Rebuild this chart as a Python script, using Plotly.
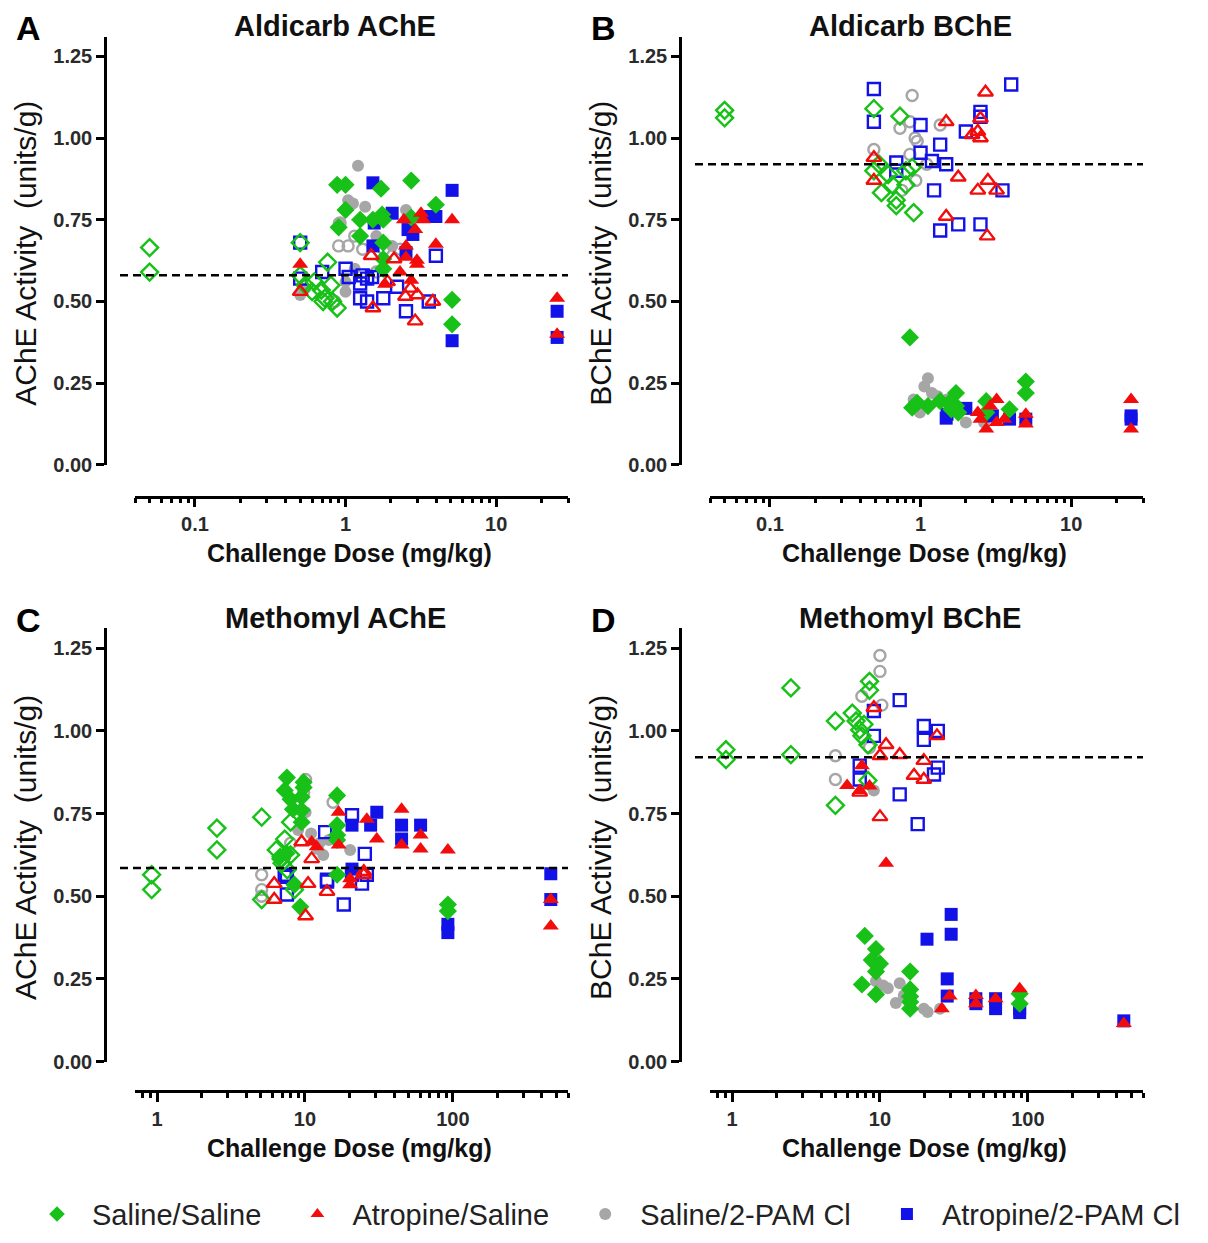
import plotly.graph_objects as go
import math

# ---------------- DATA ----------------
GROUPS = ["Saline/Saline", "Atropine/Saline", "Saline/2-PAM Cl", "Atropine/2-PAM Cl"]
PANEL_TITLES = ["Aldicarb AChE", "Aldicarb BChE", "Methomyl AChE", "Methomyl BChE"]
PANEL_LETTERS = ["A", "B", "C", "D"]
Y_TITLES = ["AChE Activity\u00a0 (units/g)", "BChE Activity\u00a0 (units/g)",
            "AChE Activity\u00a0 (units/g)", "BChE Activity\u00a0 (units/g)"]
X_TITLE = "Challenge Dose (mg/kg)"
BASELINES = [0.58, 0.92, 0.585, 0.92]
Y_TICKS = [0.0, 0.25, 0.5, 0.75, 1.0, 1.25]
X_TICKS_ALDICARB = [0.1, 1, 10]
X_TICKS_METHOMYL = [1, 10, 100]

# Panel A  (Aldicarb AChE)
A_SS_F_X = [0.88, 1.0, 1.72, 2.73, 1.0, 0.9, 1.25, 1.52, 1.75, 1.78, 2.73, 3.98, 1.25, 1.78, 1.78, 1.78, 5.1, 5.1]
A_SS_F_Y = [0.857, 0.857, 0.845, 0.87, 0.78, 0.727, 0.75, 0.75, 0.766, 0.75, 0.757, 0.796, 0.70, 0.68, 0.63, 0.60, 0.505, 0.43]
A_SS_O_X = [0.05, 0.05, 0.5, 0.76, 0.5, 0.54, 0.69, 0.73, 0.80, 0.88, 0.71, 0.62, 0.6, 0.82]
A_SS_O_Y = [0.665, 0.59, 0.68, 0.62, 0.58, 0.55, 0.535, 0.51, 0.55, 0.48, 0.50, 0.56, 0.53, 0.50]
A_AS_F_X = [0.5, 1.83, 2.3, 2.44, 2.52, 2.52, 2.73, 2.9, 2.98, 2.98, 3.17, 3.27, 3.98, 5.1, 25.4, 25.4]
A_AS_F_Y = [0.614, 0.553, 0.59, 0.75, 0.67, 0.635, 0.565, 0.72, 0.626, 0.614, 0.77, 0.75, 0.675, 0.75, 0.51, 0.40]
A_AS_O_X = [1.48, 0.5, 1.52, 2.5, 2.9, 3.8, 1.9, 2.7, 3.0, 2.1]
A_AS_O_Y = [0.64, 0.53, 0.48, 0.515, 0.44, 0.50, 0.56, 0.54, 0.52, 0.63]
A_SP_F_X = [1.21, 1.04, 1.12, 1.35, 0.9, 2.52, 1.6, 2.04, 1.0, 1.0, 0.54, 0.5, 1.15]
A_SP_F_Y = [0.915, 0.81, 0.80, 0.79, 0.74, 0.78, 0.70, 0.67, 0.53, 0.56, 0.54, 0.52, 0.60]
A_SP_O_X = [0.9, 1.04, 0.92, 1.15, 1.3, 1.8, 2.3, 0.85, 1.6]
A_SP_O_Y = [0.67, 0.67, 0.74, 0.70, 0.66, 0.66, 0.66, 0.50, 0.59]
A_AP_F_X = [1.52, 5.1, 2.04, 3.37, 3.98, 1.52, 2.52, 2.8, 5.1, 25.4, 25.4, 2.6, 1.55]
A_AP_F_Y = [0.863, 0.84, 0.77, 0.76, 0.76, 0.67, 0.65, 0.705, 0.38, 0.47, 0.39, 0.72, 0.74]
A_AP_O_X = [0.5, 3.98, 1.0, 1.3, 1.39, 1.5, 0.5, 0.7, 1.25, 1.39, 1.78, 2.52, 3.57, 1.05, 1.25, 2.2]
A_AP_O_Y = [0.68, 0.64, 0.60, 0.58, 0.57, 0.575, 0.57, 0.59, 0.51, 0.50, 0.51, 0.47, 0.50, 0.575, 0.555, 0.545]

# Panel B  (Aldicarb BChE)
B_SS_F_X = [0.85, 0.88, 1.12, 1.35, 1.72, 1.72, 1.78, 2.73, 2.73, 3.9, 5.0, 5.0, 0.95, 1.55, 1.6]
B_SS_F_Y = [0.39, 0.175, 0.18, 0.195, 0.22, 0.18, 0.16, 0.195, 0.16, 0.17, 0.255, 0.22, 0.19, 0.19, 0.17]
B_SS_O_X = [0.05, 0.05, 0.49, 0.73, 0.49, 0.53, 0.61, 0.65, 0.55, 0.69, 0.69, 0.80, 0.80, 0.88, 0.90]
B_SS_O_Y = [1.085, 1.062, 1.09, 1.067, 0.90, 0.92, 0.888, 0.857, 0.833, 0.81, 0.793, 0.857, 0.90, 0.91, 0.772]
B_AS_F_X = [2.4, 2.73, 3.2, 3.2, 5.0, 5.0, 3.6, 25, 25, 2.9, 2.5]
B_AS_F_Y = [0.16, 0.11, 0.20, 0.13, 0.125, 0.155, 0.14, 0.20, 0.11, 0.18, 0.14]
B_AS_O_X = [0.49, 0.49, 1.48, 2.2, 2.5, 2.4, 2.5, 2.7, 1.78, 1.48, 2.77, 2.4, 2.8, 3.2]
B_AS_O_Y = [0.94, 0.87, 1.05, 1.01, 1.0, 1.02, 1.06, 1.14, 0.88, 0.76, 0.70, 0.84, 0.87, 0.84]
B_SP_F_X = [1.12, 1.06, 1.19, 0.99, 1.83, 2.0, 2.64, 1.3, 1.5, 0.9]
B_SP_F_Y = [0.265, 0.24, 0.22, 0.16, 0.17, 0.13, 0.13, 0.21, 0.20, 0.20]
B_SP_O_X = [0.88, 0.73, 0.85, 0.92, 0.95, 1.35, 0.49, 0.93, 0.85, 1.1, 0.75]
B_SP_O_Y = [1.13, 1.03, 1.05, 1.0, 0.99, 1.04, 0.965, 0.87, 0.95, 0.92, 0.84]
B_AP_F_X = [1.48, 2.0, 3.9, 5.0, 25, 25, 1.5, 3.0]
B_AP_F_Y = [0.143, 0.173, 0.14, 0.14, 0.15, 0.14, 0.155, 0.15]
B_AP_O_X = [0.49, 0.49, 1.0, 2.0, 2.5, 4.0, 1.35, 1.0, 1.19, 1.48, 0.69, 0.69, 1.23, 1.35, 1.78, 2.5, 3.5, 2.5]
B_AP_O_Y = [1.15, 1.05, 1.04, 1.02, 1.08, 1.164, 0.98, 0.955, 0.93, 0.92, 0.925, 0.90, 0.84, 0.717, 0.736, 0.736, 0.84, 1.065]

# Panel C  (Methomyl AChE)
C_SS_F_X = [7.55, 7.3, 8.0, 9.8, 9.8, 9.5, 8.3, 9.5, 16.5, 16.5, 16.5, 16.5, 9.5, 8.5, 9.3, 16.5, 92.5, 92.5, 6.8, 7.5]
C_SS_F_Y = [0.859, 0.82, 0.793, 0.845, 0.829, 0.80, 0.763, 0.76, 0.805, 0.715, 0.685, 0.67, 0.724, 0.535, 0.468, 0.565, 0.475, 0.455, 0.62, 0.63]
C_SS_O_X = [0.92, 0.92, 2.54, 2.54, 5.1, 8.0, 7.3, 6.4, 6.9, 8.0, 5.1, 8.5, 7.0, 7.6]
C_SS_O_Y = [0.565, 0.52, 0.706, 0.64, 0.739, 0.724, 0.673, 0.64, 0.613, 0.625, 0.49, 0.52, 0.60, 0.58]
C_AS_F_X = [11.1, 16.9, 16.9, 26.2, 30.6, 45, 45, 60.5, 60.5, 92.5, 20.2, 20.2, 459, 459, 12]
C_AS_F_Y = [0.664, 0.754, 0.655, 0.733, 0.673, 0.763, 0.655, 0.685, 0.643, 0.64, 0.535, 0.553, 0.49, 0.41, 0.65]
C_AS_O_X = [9.5, 11.1, 25, 6.2, 6.2, 10.1, 10.5, 14.1, 25]
C_AS_O_Y = [0.664, 0.613, 0.574, 0.538, 0.49, 0.44, 0.538, 0.514, 0.565]
C_SP_F_X = [10.1, 12.2, 14.5, 13.3, 20.2, 11, 12.5, 9]
C_SP_F_Y = [0.754, 0.643, 0.67, 0.625, 0.64, 0.69, 0.66, 0.70]
C_SP_O_X = [10.1, 9.8, 15.5, 5.1, 5.1, 5.1, 8.0]
C_SP_O_Y = [0.853, 0.814, 0.784, 0.565, 0.52, 0.50, 0.66]
C_AP_F_X = [30.6, 20.8, 27.8, 45, 60.5, 45, 459, 20.8, 92.5, 92.5, 459]
C_AP_F_Y = [0.754, 0.715, 0.715, 0.715, 0.715, 0.673, 0.568, 0.582, 0.415, 0.39, 0.49]
C_AP_O_X = [13.7, 20.8, 25.4, 26.2, 7.3, 14.1, 20.8, 7.55, 7.55, 14.1, 18.3, 24.3]
C_AP_O_Y = [0.694, 0.745, 0.628, 0.565, 0.565, 0.55, 0.565, 0.559, 0.505, 0.544, 0.475, 0.538]

# Panel D  (Methomyl BChE)
D_SS_F_X = [7.9, 9.4, 8.8, 10, 9.4, 7.55, 9.4, 16, 16, 16, 16, 88, 88, 16]
D_SS_F_Y = [0.38, 0.34, 0.307, 0.296, 0.272, 0.233, 0.203, 0.272, 0.218, 0.197, 0.16, 0.205, 0.175, 0.18]
D_SS_O_X = [0.91, 0.91, 2.5, 2.5, 5.0, 5.0, 6.5, 6.9, 7.3, 7.55, 8.3, 8.3, 8.5, 8.5, 7.8]
D_SS_O_Y = [0.943, 0.913, 1.13, 0.928, 1.03, 0.775, 1.054, 1.03, 1.003, 0.985, 0.958, 0.85, 1.15, 1.123, 1.02]
D_AS_F_X = [6.0, 7.3, 7.55, 11, 29.6, 26.2, 44.5, 44.5, 60.5, 88, 445, 8.5]
D_AS_F_Y = [0.835, 0.82, 0.895, 0.60, 0.198, 0.16, 0.20, 0.175, 0.19, 0.22, 0.115, 0.833]
D_AS_O_X = [9.1, 7.3, 10, 11, 13.6, 19.8, 17, 19.8, 10, 24.3]
D_AS_O_Y = [1.07, 0.814, 0.925, 0.958, 0.928, 0.91, 0.865, 0.853, 0.74, 0.985]
D_SP_F_X = [9.1, 9.4, 11.3, 13.6, 12.8, 19.8, 25.5, 10.5, 14.5, 21]
D_SP_F_Y = [0.82, 0.243, 0.222, 0.237, 0.177, 0.16, 0.16, 0.23, 0.20, 0.15]
D_SP_O_X = [5.0, 5.0, 10, 10, 7.55, 10.3, 8.5]
D_SP_O_Y = [0.925, 0.853, 1.228, 1.18, 1.105, 1.078, 0.95]
D_AP_F_X = [20.8, 30.3, 30.3, 28.5, 28.5, 44.5, 60.5, 60.5, 88, 88, 445, 44.5]
D_AP_F_Y = [0.37, 0.445, 0.385, 0.25, 0.198, 0.19, 0.19, 0.16, 0.16, 0.148, 0.123, 0.175]
D_AP_O_X = [9.1, 9.1, 7.3, 7.3, 13.6, 19.8, 19.8, 24.6, 23.2, 24.6, 13.6, 18]
D_AP_O_Y = [1.06, 0.985, 0.895, 0.853, 1.093, 1.015, 0.973, 1.0, 0.868, 0.889, 0.808, 0.718]

# ---------------- STYLE / LAYOUT ----------------
PAGE_OFF = 8                      # default <body> margin of the html page
W, H = 1208 - PAGE_OFF, 1243 - PAGE_OFF
def PX(x):
    return (x - PAGE_OFF) / W
def PY(y):
    return 1 - (y - PAGE_OFF) / H

COLORS = {"SS": "#17c117", "AS": "#f20c0c", "SP": "#a6a6a6", "AP": "#1212e8"}
SYMBOLS = {"SS": "diamond", "AS": "triangle-up", "SP": "circle", "AP": "square"}
SIZES = {"SS": 14, "AS": 14, "SP": 12, "AP": 13}
NAMES = {"SS": GROUPS[0], "AS": GROUPS[1], "SP": GROUPS[2], "AP": GROUPS[3]}
LEGEND_PAD = {"SS": "\u00a0\u00a0", "AS": "\u00a0\u00a0", "SP": "\u00a0\u00a0", "AP": ""}
RANKS = {"SS": 1, "AS": 2, "SP": 3, "AP": 4}
DRAW_ORDER = ["SP", "AP", "SS", "AS"]

data = {
    "A": {"SS": (A_SS_F_X, A_SS_F_Y, A_SS_O_X, A_SS_O_Y), "AS": (A_AS_F_X, A_AS_F_Y, A_AS_O_X, A_AS_O_Y),
          "SP": (A_SP_F_X, A_SP_F_Y, A_SP_O_X, A_SP_O_Y), "AP": (A_AP_F_X, A_AP_F_Y, A_AP_O_X, A_AP_O_Y)},
    "B": {"SS": (B_SS_F_X, B_SS_F_Y, B_SS_O_X, B_SS_O_Y), "AS": (B_AS_F_X, B_AS_F_Y, B_AS_O_X, B_AS_O_Y),
          "SP": (B_SP_F_X, B_SP_F_Y, B_SP_O_X, B_SP_O_Y), "AP": (B_AP_F_X, B_AP_F_Y, B_AP_O_X, B_AP_O_Y)},
    "C": {"SS": (C_SS_F_X, C_SS_F_Y, C_SS_O_X, C_SS_O_Y), "AS": (C_AS_F_X, C_AS_F_Y, C_AS_O_X, C_AS_O_Y),
          "SP": (C_SP_F_X, C_SP_F_Y, C_SP_O_X, C_SP_O_Y), "AP": (C_AP_F_X, C_AP_F_Y, C_AP_O_X, C_AP_O_Y)},
    "D": {"SS": (D_SS_F_X, D_SS_F_Y, D_SS_O_X, D_SS_O_Y), "AS": (D_AS_F_X, D_AS_F_Y, D_AS_O_X, D_AS_O_Y),
          "SP": (D_SP_F_X, D_SP_F_Y, D_SP_O_X, D_SP_O_Y), "AP": (D_AP_F_X, D_AP_F_Y, D_AP_O_X, D_AP_O_Y)},
}

# panel geometry in pixels (page coordinates)
PANELS = {
    "A": dict(ax="", xdom=(135, 568), ydom=(37, 469), yaxis_x=105, xaxis_y=501, xr=(0.04, 30), dash_x0=120),
    "B": dict(ax="2", xdom=(710, 1143), ydom=(37, 469), yaxis_x=680, xaxis_y=501, xr=(0.04, 30), dash_x0=695),
    "C": dict(ax="3", xdom=(135, 568), ydom=(634, 1071), yaxis_x=105, xaxis_y=1101, xr=(0.71, 600), dash_x0=120),
    "D": dict(ax="4", xdom=(710, 1143), ydom=(634, 1071), yaxis_x=680, xaxis_y=1101, xr=(0.71, 600), dash_x0=695),
}

FONT = "Liberation Sans, Arial, sans-serif"
fig = go.Figure()

for pi, p in enumerate(["A", "B", "C", "D"]):
    g = PANELS[p]
    xa = "x" + g["ax"]
    ya = "y" + g["ax"]
    for grp in DRAW_ORDER:
        fx, fy, ox, oy = data[p][grp]
        fig.add_trace(go.Scatter(
            x=ox, y=oy, mode="markers", xaxis=xa, yaxis=ya, showlegend=False,
            name=NAMES[grp],
            marker=dict(symbol=SYMBOLS[grp] + "-open", size=SIZES[grp] - 1, color=COLORS[grp],
                        line=dict(width=2.4, color=COLORS[grp])),
            cliponaxis=False))
        fig.add_trace(go.Scatter(
            x=fx, y=fy, mode="markers", xaxis=xa, yaxis=ya,
            showlegend=(p == "A"), legendrank=RANKS[grp], name=NAMES[grp] + LEGEND_PAD[grp],
            marker=dict(symbol=SYMBOLS[grp], size=SIZES[grp], color=COLORS[grp],
                        line=dict(width=0)),
            cliponaxis=False))

    is_ald = p in ("A", "B")
    xt = X_TICKS_ALDICARB if is_ald else X_TICKS_METHOMYL
    lo, hi = g["xr"]
    minor_vals = []
    for dec in range(math.floor(math.log10(lo)), math.ceil(math.log10(hi)) + 1):
        for m in range(2, 10):
            v = m * 10 ** dec
            if lo * 0.999 <= v <= hi * 1.001:
                minor_vals.append(v)
    axis_common = dict(showgrid=False, zeroline=False, showline=True, linecolor="black", linewidth=2.5,
                       ticks="outside", tickcolor="black", tickwidth=2.5,
                       tickfont=dict(family=FONT, size=20, color="#2a2a2a", weight="bold"))
    fig.layout["xaxis" + g["ax"]] = dict(
        type="log", range=[math.log10(lo), math.log10(hi)],
        domain=[PX(g["xdom"][0]), PX(g["xdom"][1])], anchor="free", position=PY(g["xaxis_y"]),
        tickmode="array", tickvals=xt, ticktext=[("%g" % v) for v in xt], ticklen=9,
        minor=dict(tickmode="array", tickvals=minor_vals, ticks="outside", ticklen=5,
                   tickwidth=2.5, tickcolor="black", showgrid=False),
        **axis_common)
    fig.layout["yaxis" + g["ax"]] = dict(
        range=[0, 1.31], domain=[PY(g["ydom"][1]), PY(g["ydom"][0])],
        anchor="free", position=PX(g["yaxis_x"]),
        tickmode="array", tickvals=Y_TICKS, ticktext=["%.2f" % v for v in Y_TICKS], ticklen=8,
        **axis_common)

    # dashed baseline
    fig.add_shape(type="line", xref="paper", yref=ya, x0=PX(g["dash_x0"]), x1=PX(g["xdom"][1]),
                  y0=BASELINES[pi], y1=BASELINES[pi], line=dict(color="black", width=2.5, dash="8px,5px"))

    # annotations: letter, title, axis titles
    xc = (g["xdom"][0] + g["xdom"][1]) / 2
    top = g["ydom"][0]
    fig.add_annotation(text="<b>%s</b>" % PANEL_LETTERS[pi], xref="paper", yref="paper",
                       x=PX(g["yaxis_x"] - 77), y=PY(top - 9), showarrow=False,
                       font=dict(family=FONT, size=34, color="black"), xanchor="center", yanchor="middle",
                       borderpad=0)
    fig.add_annotation(text="<b>%s</b>" % PANEL_TITLES[pi], xref="paper", yref="paper",
                       x=PX(g["yaxis_x"] + 230), y=PY(top - 11), showarrow=False,
                       font=dict(family=FONT, size=29, color="#111"), xanchor="center", yanchor="middle")
    fig.add_annotation(text=Y_TITLES[pi], xref="paper", yref="paper", textangle=-90,
                       x=PX(g["yaxis_x"] - 79), y=PY((g["ydom"][0] + g["ydom"][1]) / 2 + 3), showarrow=False,
                       font=dict(family=FONT, size=30, color="#111"), xanchor="center", yanchor="middle")
    fig.add_annotation(text="<b>%s</b>" % X_TITLE, xref="paper", yref="paper",
                       x=PX(xc - 2), y=PY(g["xaxis_y"] + 57), showarrow=False,
                       font=dict(family=FONT, size=25, color="#111"), xanchor="center", yanchor="middle")

fig.update_layout(
    width=W, height=H, margin=dict(l=0, r=0, t=0, b=0),
    paper_bgcolor="white", plot_bgcolor="white",
    showlegend=True,
    legend=dict(orientation="h", x=PX(22), xanchor="left", y=PY(1225), yanchor="middle",
                font=dict(family=FONT, size=29, color="#222"), itemsizing="constant",
                itemwidth=60, traceorder="normal", bgcolor="rgba(0,0,0,0)"),
)

fig.write_html("out.html")
